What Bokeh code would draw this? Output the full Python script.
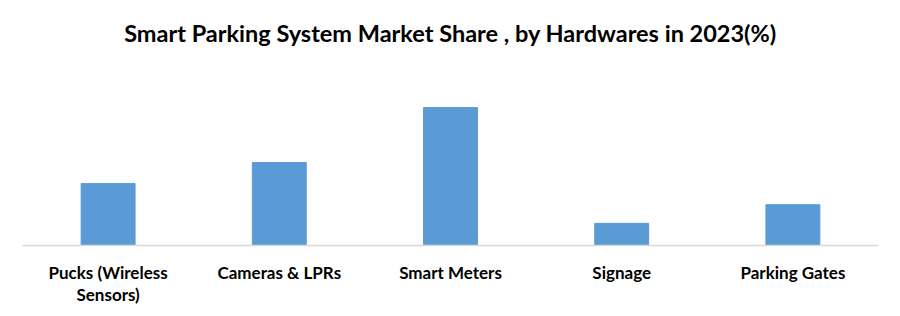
from bokeh.plotting import figure
from bokeh.models import ColumnDataSource, Range1d, FactorRange
from bokeh.embed import file_html
from bokeh.resources import INLINE

categories = ["Pucks (Wireless\nSensors)", "Cameras & LPRs", "Smart Meters", "Signage", "Parking Gates"]
shares = [17.9, 24.0, 39.9, 6.4, 11.8]

source = ColumnDataSource(data=dict(cat=categories, share=shares))

p = figure(
    width=900, height=316,
    x_range=FactorRange(*categories, range_padding=0),
    y_range=Range1d(0, 53.5),
    output_backend="svg", toolbar_location=None,
    min_border_left=22, min_border_right=22, min_border_bottom=71, min_border_top=60,
    title="Smart Parking System Market Share , by Hardwares in 2023(%)",
)
p.x_range.range_padding = 0
p.vbar(x="cat", top="share", width=0.315, source=source, color="#5B9BD5")

p.title.align = "center"
p.title.text_font = "Lato"
p.title.text_font_style = "bold"
p.title.text_font_size = "23.5px"
p.title.text_color = "#000000"
p.title.standoff = 27

p.yaxis.visible = False
p.xgrid.visible = False
p.ygrid.visible = False
p.outline_line_color = None
p.xaxis.axis_line_color = "#d9d9d9"
p.xaxis.axis_line_width = 1.5
p.xaxis.major_tick_line_color = None
p.xaxis.minor_tick_line_color = None
p.xaxis.major_label_text_font = "Lato"
p.xaxis.major_label_text_font_style = "bold"
p.xaxis.major_label_text_font_size = "17px"
p.xaxis.major_label_text_color = "#000000"
p.xaxis.major_label_text_line_height = 1.05
p.xaxis.major_label_standoff = 10

open("out.html", "w").write(file_html(p, INLINE))
